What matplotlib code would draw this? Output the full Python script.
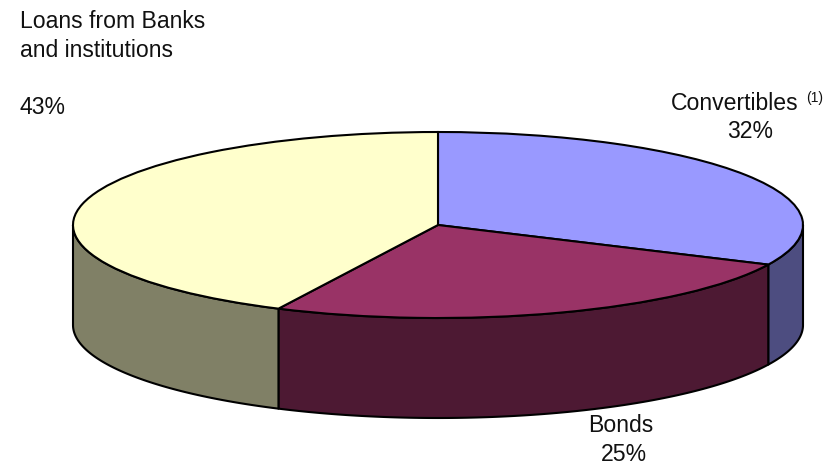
import numpy as np
import matplotlib
matplotlib.use("Agg")
import matplotlib.pyplot as plt

categories = ["Convertibles", "Bonds", "Loans from Banks\nand institutions"]
shares = [32.0, 25.2, 42.8]
top_colors = ["#9999FF", "#993366", "#FFFFCC"]
side_colors = ["#4D4D80", "#4D1933", "#808066"]

W, H = 836, 465
CX, CY, RX, RY, DEPTH = 438, 225, 365, 93, 100

plt.rcParams["font.family"] = ["Liberation Sans", "DejaVu Sans"]
fig = plt.figure(figsize=(W / 100, H / 100), dpi=100, facecolor="white")
ax = fig.add_axes([0, 0, 1, 1])

depth = DEPTH / RY
fracs = np.array(shares) / sum(shares)
edges = np.pi / 2 - 2 * np.pi * np.concatenate([[0], np.cumsum(fracs)])

for a0, a1, col in zip(edges[:-1], edges[1:], side_colors):
    lo, hi = max(a1, -np.pi), min(a0, 0)
    if lo >= hi:
        continue
    t = np.linspace(hi, lo, 120)
    x, y = np.cos(t), np.sin(t)
    ax.fill(np.r_[x, x[::-1]], np.r_[y, (y - depth)[::-1]], facecolor=col,
            edgecolor="black", linewidth=1.5, joinstyle="round", zorder=1)

ax.pie(shares, colors=top_colors, startangle=90, counterclock=False, radius=1,
       center=(0, 0), frame=True,
       wedgeprops=dict(edgecolor="black", linewidth=1.5, zorder=2))

ax.set_aspect("auto")
ax.set_xlim(-CX / RX, (W - CX) / RX)
ax.set_ylim(-(H - CY) / RY, CY / RY)
ax.axis("off")


def px(x, y):
    return (x - CX) / RX, (CY - y) / RY


fs = 16.6
tc = "#111111"
kw = dict(fontsize=fs, va="baseline", color=tc)
line1, line2 = categories[2].split("\n")
ax.text(*px(20, 27.5), line1, ha="left", **kw)
ax.text(*px(20, 57), line2, ha="left", **kw)
ax.text(*px(20, 114), f"{round(shares[2])}%", ha="left", **kw)
ax.text(*px(671, 110), categories[0], ha="left", **kw)
ax.text(*px(806, 102), "(1)", fontsize=10, va="baseline", ha="left", color=tc)
ax.text(*px(750, 138), f"{round(shares[0])}%", ha="center", **kw)
ax.text(*px(621, 432), categories[1], ha="center", **kw)
ax.text(*px(624, 461), f"{round(shares[1])}%", ha="center", **kw)

fig.savefig("out.png", dpi=100, facecolor="white")
